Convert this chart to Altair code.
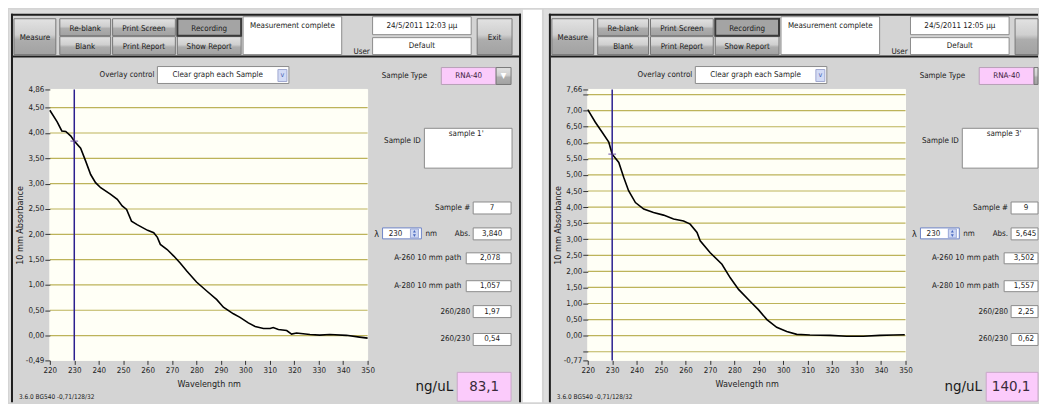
import altair as alt
import pandas as pd

# ---------------- data ----------------
wl_1 = [220, 223, 224.9, 226.5, 228.6, 230, 232.6, 234.7, 236.7, 238.7, 240.8, 244.9,
        247.6, 249.6, 251.4, 253.4, 255.7, 260, 262.5, 264, 265.2, 268.0, 270.7, 273.4,
        276.1, 280, 284.3, 288.3, 291.0, 295.1, 297.8, 301.2, 304.0, 307.4, 310.1, 311.4,
        313.5, 316.9, 318.9, 320.9, 326.4, 330.4, 334.5, 341.3, 346.7, 350]
abs_1 = [4.45, 4.22, 4.04, 4.03, 3.94, 3.84, 3.70, 3.44, 3.18, 3.02, 2.92, 2.79,
         2.69, 2.56, 2.49, 2.26, 2.19, 2.078, 2.03, 1.94, 1.80, 1.70, 1.57, 1.43,
         1.27, 1.057, 0.875, 0.71, 0.56, 0.43, 0.36, 0.25, 0.18, 0.14, 0.14, 0.16,
         0.12, 0.10, 0.03, 0.05, 0.02, 0.01, 0.02, 0.005, -0.03, -0.05]

wl_2 = [220, 223.1, 225.9, 228.6, 230, 232.7, 234.7, 236.7, 239.5, 242.9, 246.9, 251.0,
        255.1, 259.2, 261.9, 264.7, 266.0, 270.1, 274.9, 278.3, 281.7, 286.4, 289.8,
        293.3, 297.3, 301.4, 305.5, 310.9, 319.1, 325.9, 332.7, 339.5, 345, 349.7]
abs_2 = [7.03, 6.64, 6.33, 6.02, 5.645, 5.39, 4.93, 4.51, 4.14, 3.94, 3.83, 3.75,
         3.63, 3.57, 3.47, 3.21, 2.95, 2.58, 2.22, 1.80, 1.44, 1.07, 0.81,
         0.50, 0.26, 0.13, 0.04, 0.02, 0.01, -0.02, -0.02, 0.01, 0.02, 0.03]

x_ticks = [220, 230, 240, 250, 260, 270, 280, 290, 300, 310, 320, 330, 340, 350]
y_ticks_1 = [-0.49, 0, 0.5, 1, 1.5, 2, 2.5, 3, 3.5, 4, 4.5, 4.86]
y_grid_1 = [0, 0.5, 1, 1.5, 2, 2.5, 3, 3.5, 4, 4.5]
y_ticks_2 = [-0.77, -0.5, 0, 0.5, 1, 1.5, 2, 2.5, 3, 3.5, 4, 4.5, 5, 5.5, 6, 6.5, 7, 7.5, 7.66]
y_grid_2 = [-0.5, 0, 0.5, 1, 1.5, 2, 2.5, 3, 3.5, 4, 4.5, 5, 5.5, 6, 6.5, 7, 7.5]
y_unlabeled = [-0.5, 7.5]

stamps = ["24/5/2011  12:03 μμ", "24/5/2011  12:05 μμ"]
sample_ids = ["sample 1'", "sample 3'"]
sample_nums = ["7", "9"]
lambda_nm = [230, 230]
abs_at_lambda = [3.840, 5.645]
a260 = [2.078, 3.502]
a280 = [1.057, 1.557]
r260_280 = [1.97, 2.25]
r260_230 = [0.54, 0.62]
conc = [83.1, 140.1]

FONT = "DejaVu Sans Condensed, Liberation Sans Narrow, sans-serif"
PW, PH = 319, 272
WHITE, BOX = "#ffffff", "#8c8c8c"
PINK = "#fbcbfb"
NONE = "transparent"
PANEL = "#d4d4d4"


def fmt(v, d):
    return f"{v:.{d}f}".replace(".", ",")


def window(i, wl, ab, yt, yg, ydom, first, xmax, val_x, conc_layout):
    xs = alt.Scale(domain=[220, 350], nice=False, zero=False)
    ys = alt.Scale(domain=ydom, nice=False, zero=False)
    no_lab = "[" + ",".join(str(v) for v in y_unlabeled) + "]"
    y_axis = alt.Axis(values=yt, title="10 mm Absorbance", tickSize=5, labelPadding=1,
                      titlePadding=1, domain=False, grid=False, zindex=1,
                      labelExpr=f"indexof({no_lab}, datum.value) >= 0 ? '' : "
                                "replace(replace(format(datum.value, '.2f'), '.', ','), '\u2212', '-')")
    x_axis = alt.Axis(values=x_ticks, title="Wavelength nm", tickSize=4, labelPadding=2,
                      titlePadding=5, domain=False, grid=False, zindex=1, labelFlush=False,
                      format="d")

    # ----- window chrome (pixel layout relative to plot area) -----
    if first:
        frame = [
            (-41, -39, -80, 314, "#dedede", NONE),
            (-41, 475, -80, -76, "#dedede", NONE),
            (473, 475, -80, 314, "#dedede", NONE),
            (475, 494, -80, 314, "#ffffff", NONE),
            (-39, -37, -76, 314, "#1e1e1e", NONE),
            (-39, 473, -76, -74, "#1e1e1e", NONE),
            (471, 473, -76, 314, "#1e1e1e", NONE),
            (-37, 471, -34, -32, "#1e1e1e", NONE),
        ]
    else:
        frame = [
            (-44, -39, -80, 314, "#dedede", NONE),
            (-44, xmax, -80, -76, "#dedede", NONE),
            (-39, -37, -76, 314, "#1e1e1e", NONE),
            (-39, xmax, -76, -74, "#1e1e1e", NONE),
            (-37, xmax, -34, -32, "#1e1e1e", NONE),
        ]
    cx0, cx1, ctx = conc_layout
    boxes = [
        (194, 293, -73, -35, WHITE, BOX),
        (324, 423, -73, -55, WHITE, BOX),
        (324, 423, -52, -35, WHITE, BOX),
        (108, 240, -23, -6, WHITE, BOX),
        (229, 238, -20, -8, "#d3dbf5", "#a0a8d0"),
        (393, 448, -22, -5, PINK, "#b8a0b8"),
        (376, 464, 39, 79, WHITE, BOX),
        (425, 463, 113, 125, WHITE, BOX),
        (334, 373, 139, 150, WHITE, "#6f86c8"),
        (362, 370, 140, 149, "#cdd7f3", "#9aa8d8"),
        (425, 463, 139, 151, WHITE, BOX),
        (418, 463, 164, 175, WHITE, BOX),
        (418, 463, 192, 203, WHITE, BOX),
        (425, 463, 217, 229, WHITE, BOX),
        (425, 463, 245, 257, WHITE, BOX),
        (cx0, cx1, 284, 313, PINK, "#c8a8c8"),
        (0, PW, 0, PH, "#fffff6", "#fffff6"),
    ]
    buttons = [(-36, 6, -71, -35), (10, 61, -71, -54), (10, 61, -53, -35),
               (63, 126, -71, -54), (63, 126, -53, -35), (128, 192, -53, -35),
               (429, 464, -71, -35), (448, 463, -22, -5)]
    pressed = [(128, 192, -71, -54)]

    def clamp(rows):
        out = []
        for r in rows:
            if r[0] >= xmax - 2:
                continue
            out.append((r[0], min(r[1], xmax)) + tuple(r[2:]))
        return out

    rect_df = pd.DataFrame(clamp(frame + boxes), columns=["x0", "x1", "y0", "y1", "fill", "stroke"])
    btn_df = pd.DataFrame(clamp(buttons), columns=["x0", "x1", "y0", "y1"])
    prs_df = pd.DataFrame(clamp(pressed), columns=["x0", "x1", "y0", "y1"])

    def rect_enc(ch):
        return ch.encode(
            x=alt.X("x0:Q", scale=None, axis=None), x2="x1",
            y=alt.Y("y0:Q", scale=None, axis=None), y2="y1")

    bg = rect_enc(alt.Chart(rect_df).mark_rect(strokeWidth=1)).encode(
        color=alt.Color("fill:N", scale=None), stroke=alt.Stroke("stroke:N", scale=None))
    grad = alt.LinearGradient(gradient="linear", x1=0, x2=0, y1=0, y2=1, stops=[
        alt.GradientStop(color="#e2e2e2", offset=0), alt.GradientStop(color="#cfcfcf", offset=0.45),
        alt.GradientStop(color="#adadad", offset=0.58), alt.GradientStop(color="#a2a2a2", offset=1)])
    btn = rect_enc(alt.Chart(btn_df).mark_rect(fill=grad, stroke="#777777", strokeWidth=1))
    prs = rect_enc(alt.Chart(prs_df).mark_rect(fill="#a4a4a4", stroke="#3a3a3a", strokeWidth=2))
    spin = alt.Chart(pd.DataFrame({"x": [366, 366], "y": [142.3, 146.7],
                                   "s": ["triangle-up", "triangle-down"]})).mark_point(
        filled=True, size=9, color="#4a6ac0", opacity=1).encode(
        x=alt.X("x:Q", scale=None, axis=None), y=alt.Y("y:Q", scale=None, axis=None),
        shape=alt.Shape("s:N", scale=None))

    # ----- texts -----
    T = "#1a1a1a"
    F = 8
    center = [
        (-15, -52, "Measure", F, T), (35.5, -61, "Re-blank", F, T), (35.5, -43, "Blank", F, T),
        (94.5, -61, "Print Screen", F, T), (94.5, -43, "Print Report", F, T),
        (160, -61, "Recording", F, T), (160, -43, "Show Report", F, T),
        (243.5, -64, "Measurement complete", F, T), (313, -38, "User", F, T),
        (373.5, -64, stamps[i], F, T), (373.5, -43.5, "Default", F, T),
        (446.5, -52, "Exit", F, T), (168.5, -14.5, "Clear graph each Sample", F, T),
        (233.5, -14.5, "v", 7, "#3a58b0"), (356, -13, "Sample Type", F, T),
        (420.5, -13.5, "RNA-40", F, "#3a1a3a"), (455.5, -13.5, "\u25bc", 8, "#ffffff"),
        (354, 52, "Sample ID", F, T), (418, 45, sample_ids[i], F, T),
        (val_x, 119, sample_nums[i], F, T), (328, 145, "\u03bb", 9, T),
        (347, 145, str(lambda_nm[i]), F, T),
        (val_x, 145, fmt(abs_at_lambda[i], 3), F, T),
        (val_x - 2, 169.5, fmt(a260[i], 3), F, T), (val_x - 2, 197.5, fmt(a280[i], 3), F, T),
        (val_x, 223, fmt(r260_280[i], 2), F, T), (val_x, 251, fmt(r260_230[i], 2), F, T),
    ]
    center = [c for c in center if c[0] + 7 < xmax]
    right = [
        (105, -14.5, "Overlay control", F, T), (422, 119, "Sample #", F, T),
        (422, 145, "Abs.", F, T), (413, 169.5, "A-260 10 mm path", F, T),
        (413, 197.5, "A-280 10 mm path", F, T), (422, 223, "260/280", F, T),
        (422, 251, "260/230", F, T),
    ]
    left = [(377, 145, "nm", F, T), (-31, 309, "3.6.0 BG540 -0,71/128/32", 6.5, T)]
    big = [(cx0 - 23, 298, "ng/uL", 15, "#1a1a1a"), (ctx, 298, fmt(conc[i], 1), 15, "#3a2a3a")]
    cols = ["x", "y", "t", "fs", "c"]

    def txt(rows, align):
        return alt.Chart(pd.DataFrame(rows, columns=cols)).mark_text(
            align=align, baseline="middle", font=FONT).encode(
            x=alt.X("x:Q", scale=None, axis=None), y=alt.Y("y:Q", scale=None, axis=None),
            text="t:N", size=alt.Size("fs:Q", scale=None), color=alt.Color("c:N", scale=None))

    # ----- plot -----
    grid = alt.Chart(pd.DataFrame({"g": yg})).mark_rule(color="#bdb35a", strokeWidth=1.2).encode(
        y=alt.Y("g:Q", scale=ys, axis=y_axis))
    vrule = alt.Chart(pd.DataFrame({"wl": [lambda_nm[i]]})).mark_rule(
        color="#2b1f8f", strokeWidth=1.5).encode(x=alt.X("wl:Q", scale=xs, axis=x_axis))
    line = alt.Chart(pd.DataFrame({"wl": wl, "ab": ab})).mark_line(
        color="black", strokeWidth=1.6).encode(
        x=alt.X("wl:Q", scale=xs, axis=x_axis), y=alt.Y("ab:Q", scale=ys, axis=y_axis))
    cross = alt.Chart(pd.DataFrame({"wl": [lambda_nm[i]], "ab": [abs_at_lambda[i]]})).mark_point(
        shape="M-1,0L1,0M0,-1L0,1", size=60, filled=False, color="#5a3b9e", strokeWidth=1.3).encode(
        x=alt.X("wl:Q", scale=xs, axis=x_axis), y=alt.Y("ab:Q", scale=ys, axis=y_axis))

    return alt.layer(bg, btn, prs, spin, grid, vrule, line, cross,
                     txt(center, "center"), txt(right, "right"), txt(left, "left"),
                     txt(big, "center")).properties(width=PW, height=PH)


w1 = window(0, wl_1, abs_1, y_ticks_1, y_grid_1, [-0.49, 4.86], True, 494, 444, (409, 463, 436))
w2 = window(1, wl_2, abs_2, y_ticks_2, y_grid_2, [-0.77, 7.66], False, 452, 440, (400, 452, 425))

chart = alt.hconcat(w1, w2, spacing=0).properties(padding=0, background=PANEL).configure_view(
    stroke=None).configure_axis(
    labelFont=FONT, titleFont=FONT, labelFontSize=8, titleFontSize=9, labelColor="#222222",
    titleColor="#222222", tickColor="#333333", titleFontWeight="normal")

chart.save("out.html", embed_options={"renderer": "svg", "actions": False})
